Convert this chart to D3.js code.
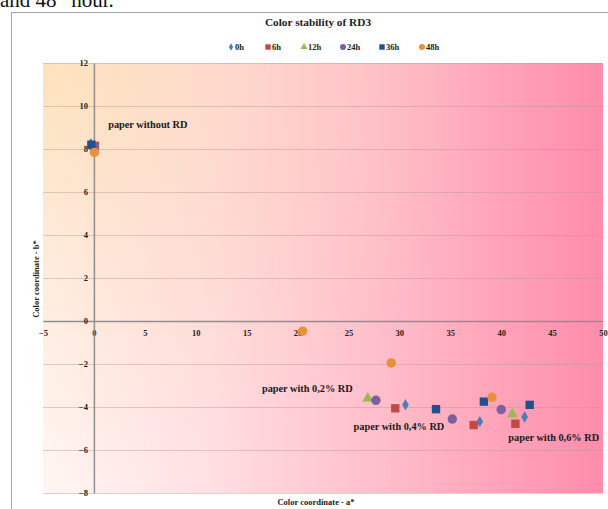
<!DOCTYPE html>
<html>
<head>
<meta charset="utf-8">
<script src="https://cdn.jsdelivr.net/npm/d3@7"></script>
<style>
  html, body { margin: 0; padding: 0; background: #fff; }
  svg { display: block; }
  text { font-family: "Liberation Serif", "Times New Roman", serif; }
</style>
</head>
<body>
<svg id="chart" width="608" height="509"></svg>
<script>
// Color coordinates (a*, b*) of paper samples over storage time
const seriesNames = ["0h", "6h", "12h", "24h", "36h", "48h"];
const seriesColors = ["#4a7ebb", "#be4b48", "#98b954", "#7d60a0", "#234f8c", "#e8913c"];
const seriesShapes = ["diamond", "square", "triangle", "circle", "square", "circle"];

const aValues = [
  [-0.3, 30.6, 37.9, 42.3],
  [0.1, 29.6, 37.3, 41.4],
  [0.0, 26.9, 41.1],
  [0.05, 27.7, 35.2, 40.0],
  [-0.25, 33.6, 38.3, 42.8],
  [0.05, 20.5, 29.2, 39.1]
];
const bValues = [
  [8.25, -3.9, -4.68, -4.47],
  [8.15, -4.06, -4.84, -4.78],
  [8.1, -3.6, -4.33],
  [8.05, -3.69, -4.56, -4.12],
  [8.2, -4.1, -3.75, -3.9],
  [7.84, -0.47, -1.95, -3.55]
];

const xTicks = [-5, 0, 5, 10, 15, 20, 25, 30, 35, 40, 45, 50];
const yTicks = [-8, -6, -4, -2, 0, 2, 4, 6, 8, 10, 12];

const annotations = [
  { text: "paper without RD", a: 1.4, b: 9.0 },
  { text: "paper with 0,2% RD", a: 16.5, b: -3.3 },
  { text: "paper with 0,4% RD", a: 25.5, b: -5.05 },
  { text: "paper with 0,6% RD", a: 40.7, b: -5.6 }
];

const svg = d3.select("#chart");

// page text above the chart frame
const pageText = svg.append("text").attr("x", 0).attr("y", 7)
  .style("font-size", "21px").style("fill", "#111");
pageText.append("tspan").text("and 48");
pageText.append("tspan").attr("dy", -7).style("font-size", "12px").text("th");
pageText.append("tspan").attr("dy", 7).text(" hour.");

// chart frame
svg.append("rect").attr("x", 11.5).attr("y", 12.5).attr("width", 700).attr("height", 600)
  .attr("fill", "#fff").attr("stroke", "#a6a6a6").attr("stroke-width", 1);

const plotLeft = 43, plotRight = 603, plotTop = 63, plotBottom = 493;
const x = d3.scaleLinear().domain([-5, 50]).range([plotLeft, plotRight]);
const y = d3.scaleLinear().domain([-8, 12]).range([plotBottom, plotTop]);

// plot area fill: white-to-pink sweep with a warm glow from the top-left corner
const defs = svg.append("defs");
const gh = defs.append("linearGradient").attr("id", "bgH").attr("x1", 0).attr("x2", 1).attr("y1", 0).attr("y2", 0);
[[0, "#fff7f4"], [0.3, "#ffdfe3"], [0.65, "#ffb8c6"], [1, "#ff8cab"]]
  .forEach(([o, c]) => gh.append("stop").attr("offset", o).attr("stop-color", c));
const gr = defs.append("radialGradient").attr("id", "bgGlow")
  .attr("gradientUnits", "userSpaceOnUse")
  .attr("cx", plotLeft).attr("cy", plotTop).attr("r", 440);
[[0, "#fbd596", 0.6], [0.45, "#fbd09c", 0.28], [1, "#fbd0a0", 0.0]]
  .forEach(([o, c, a]) => gr.append("stop").attr("offset", o).attr("stop-color", c).attr("stop-opacity", a));

svg.append("rect").attr("x", plotLeft).attr("y", plotTop).attr("width", plotRight - plotLeft).attr("height", plotBottom - plotTop)
  .attr("fill", "url(#bgH)");
svg.append("rect").attr("x", plotLeft).attr("y", plotTop).attr("width", plotRight - plotLeft).attr("height", plotBottom - plotTop)
  .attr("fill", "url(#bgGlow)");

// horizontal gridlines
svg.append("g").attr("transform", `translate(${plotLeft},0)`)
  .call(d3.axisLeft(y).tickValues(yTicks).tickSize(-(plotRight - plotLeft)).tickFormat(""))
  .call(g => g.select(".domain").remove())
  .call(g => g.selectAll(".tick line").attr("stroke", "#b89a9c").attr("stroke-opacity", 0.45).attr("stroke-width", 1));

// x axis through b* = 0
const xAxis = svg.append("g").attr("transform", `translate(0,${y(0)})`)
  .call(d3.axisBottom(x).tickValues(xTicks).tickSize(0).tickPadding(9).tickFormat(d3.format("d")));
xAxis.select(".domain").attr("stroke", "#8f8f8f").attr("stroke-width", 1.5);
xAxis.selectAll(".tick text").style("font-family", "Liberation Serif, serif").style("font-size", "8.5px")
  .style("font-weight", "bold").style("fill", "#222");

// y axis through a* = 0
const yAxis = svg.append("g").attr("transform", `translate(${x(0)},0)`)
  .call(d3.axisLeft(y).tickValues(yTicks).tickSize(0).tickPadding(6).tickFormat(d3.format("d")));
yAxis.select(".domain").attr("stroke", "#8f8f8f").attr("stroke-width", 1.5);
yAxis.selectAll(".tick text").style("font-family", "Liberation Serif, serif").style("font-size", "8.5px")
  .style("font-weight", "bold").style("fill", "#222");

// marker shapes
const symbolType = { diamond: d3.symbolDiamond, square: d3.symbolSquare, triangle: d3.symbolTriangle, circle: d3.symbolCircle };
const symbolSize = { diamond: 38, square: 70, triangle: 52, circle: 70 };

seriesNames.forEach((name, i) => {
  const pts = aValues[i].map((a, j) => ({ a, b: bValues[i][j] }));
  svg.append("g").attr("class", "series")
    .selectAll("path").data(pts).join("path")
    .attr("transform", d => `translate(${x(d.a)},${y(d.b)})`)
    .attr("d", d3.symbol().type(symbolType[seriesShapes[i]]).size(symbolSize[seriesShapes[i]]))
    .attr("fill", seriesColors[i]);
});

// sample annotations
svg.append("g").selectAll("text").data(annotations).join("text")
  .attr("x", d => x(d.a)).attr("y", d => y(d.b))
  .style("font-size", "10.3px").style("font-weight", "bold").style("fill", "#1a1a1a")
  .text(d => d.text);

// title
svg.append("text").attr("x", 318).attr("y", 26).attr("text-anchor", "middle")
  .style("font-size", "11.3px").style("font-weight", "bold").style("fill", "#222")
  .text("Color stability of RD3");

// legend
const legendX = [231, 268, 304, 343, 382, 422];
const legend = svg.append("g");
seriesNames.forEach((name, i) => {
  const shape = seriesShapes[i];
  legend.append("path")
    .attr("transform", `translate(${legendX[i]},${47})`)
    .attr("d", d3.symbol().type(symbolType[shape]).size(symbolSize[shape] * 0.42))
    .attr("fill", seriesColors[i]);
  legend.append("text").attr("x", legendX[i] + 4).attr("y", 50)
    .style("font-size", "8.5px").style("font-weight", "bold").style("fill", "#222").text(name);
});

// axis titles
svg.append("text").attr("x", 316).attr("y", 505).attr("text-anchor", "middle")
  .style("font-size", "8.5px").style("font-weight", "bold").style("fill", "#222")
  .text("Color coordinate - a*");
svg.append("text").attr("transform", "translate(39,279) rotate(-90)").attr("text-anchor", "middle")
  .style("font-size", "8.5px").style("font-weight", "bold").style("fill", "#222")
  .text("Color coordinate - b*");
</script>
</body>
</html>
